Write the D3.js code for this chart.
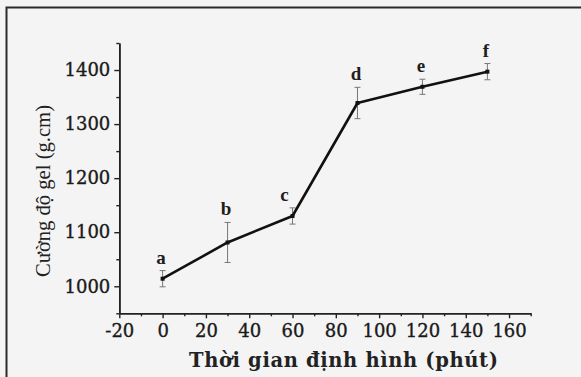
<!DOCTYPE html>
<html>
<head>
<meta charset="utf-8">
<script src="https://cdn.jsdelivr.net/npm/d3@7"></script>
<style>
  body { margin: 0; background: #f4f4f4; }
  svg { display: block; }
</style>
</head>
<body>
<div class="chart"></div>
<script>
// time (min), gel strength (g.cm), error and letter group
const times = [0, 30, 60, 90, 120, 150];
const strength = [1014, 1081, 1130, 1339, 1369, 1397];
const errors = [15, 37, 15, 29, 14, 15];
const groups = ['a', 'b', 'c', 'd', 'e', 'f'];
const xTicks = [-20, 0, 20, 40, 60, 80, 100, 120, 140, 160];
const yTicks = [1000, 1100, 1200, 1300, 1400];

const width = 581, height = 377;
const dims = {left: 119.3, right: 530.7, top: 43, bottom: 313.3};

const svg = d3.select('.chart').append('svg')
    .attr('width', width)
    .attr('height', height);

svg.append('rect').attr('width', width).attr('height', height).attr('fill', '#f4f4f4');

// frame (only top/left visible in the crop)
svg.append('path')
    .attr('d', `M6.5,${height + 5}V7.5H${width + 5}`)
    .attr('fill', 'none')
    .attr('stroke', '#2b2b2b')
    .attr('stroke-width', 2);

const x = d3.scaleLinear().domain([-20, 170]).range([dims.left, dims.right]);
const y = d3.scaleLinear().domain([950, 1450]).range([dims.bottom, dims.top]);

const plain = d => String(d);
const tickFont = g => g.selectAll('.tick text')
    .attr('font-family', '"DejaVu Serif", serif')
    .attr('font-size', 18)
    .attr('fill', '#1a1a1a')
    .attr('stroke', '#1a1a1a')
    .attr('stroke-width', 0.35);
const axisStyle = g => {
    g.select('.domain').attr('stroke', '#222').attr('stroke-width', 1.6);
    g.selectAll('.tick line').attr('stroke', '#222').attr('stroke-width', 1.4);
};

// minor ticks
svg.append('g').attr('transform', `translate(0,${dims.bottom})`)
    .call(d3.axisBottom(x).tickValues(d3.range(-10, 171, 20)).tickSize(3).tickFormat('').tickSizeOuter(0))
    .call(axisStyle);
svg.append('g').attr('transform', `translate(${dims.left},0)`)
    .call(d3.axisLeft(y).tickValues(d3.range(950, 1451, 100)).tickSize(3).tickFormat('').tickSizeOuter(0))
    .call(axisStyle);

svg.append('g').attr('transform', `translate(0,${dims.bottom})`)
    .call(d3.axisBottom(x).tickValues(xTicks).tickFormat(plain).tickSize(5).tickPadding(6).tickSizeOuter(0))
    .call(axisStyle)
    .call(tickFont);

svg.append('g').attr('transform', `translate(${dims.left},0)`)
    .call(d3.axisLeft(y).tickValues(yTicks).tickFormat(plain).tickSize(5).tickPadding(4).tickSizeOuter(0))
    .call(axisStyle)
    .call(tickFont);

const data = times.map((t, i) => ({t, v: strength[i], e: errors[i], g: groups[i]}));

// error bars
const eb = svg.append('g').attr('stroke', '#777').attr('stroke-width', 1)
    .selectAll('g').data(data).join('g');
eb.append('line')
    .attr('x1', d => x(d.t)).attr('x2', d => x(d.t))
    .attr('y1', d => y(d.v - d.e)).attr('y2', d => y(d.v + d.e));
eb.append('line')
    .attr('x1', d => x(d.t) - 3).attr('x2', d => x(d.t) + 3)
    .attr('y1', d => y(d.v - d.e)).attr('y2', d => y(d.v - d.e));
eb.append('line')
    .attr('x1', d => x(d.t) - 3).attr('x2', d => x(d.t) + 3)
    .attr('y1', d => y(d.v + d.e)).attr('y2', d => y(d.v + d.e));

const line = d3.line().x(d => x(d.t)).y(d => y(d.v));
svg.append('path')
    .attr('d', line(data))
    .attr('fill', 'none')
    .attr('stroke', '#111')
    .attr('stroke-width', 2.6)
    .attr('stroke-linejoin', 'round');

svg.append('g').selectAll('rect').data(data).join('rect')
    .attr('x', d => x(d.t) - 2).attr('y', d => y(d.v) - 2)
    .attr('width', 4).attr('height', 4)
    .attr('fill', '#111');

// letter labels; "c" sits left of its bar
svg.append('g')
    .attr('font-family', '"Liberation Serif", serif')
    .attr('font-weight', 'bold')
    .attr('font-size', 19)
    .attr('fill', '#1e1e1e')
    .attr('text-anchor', 'middle')
    .selectAll('text').data(data).join('text')
    .attr('x', d => x(d.t) + (d.g === 'c' ? -8 : -1.5))
    .attr('y', d => y(d.v + d.e) - 7)
    .text(d => d.g);

svg.append('text')
    .attr('x', 343.5)
    .attr('y', 367)
    .attr('text-anchor', 'middle')
    .attr('font-family', '"DejaVu Serif", serif')
    .attr('font-weight', 'bold')
    .attr('font-size', 19.5)
    .attr('textLength', 309)
    .attr('lengthAdjust', 'spacing')
    .attr('fill', '#222')
    .text('Thời gian định hình (phút)');

svg.append('text')
    .attr('transform', 'translate(50,191) rotate(-90)')
    .attr('text-anchor', 'middle')
    .attr('font-family', '"Liberation Serif", serif')
    .attr('font-size', 21)
    .attr('textLength', 172)
    .attr('lengthAdjust', 'spacingAndGlyphs')
    .attr('fill', '#222')
    .text('Cường độ gel (g.cm)');
</script>
</body>
</html>
